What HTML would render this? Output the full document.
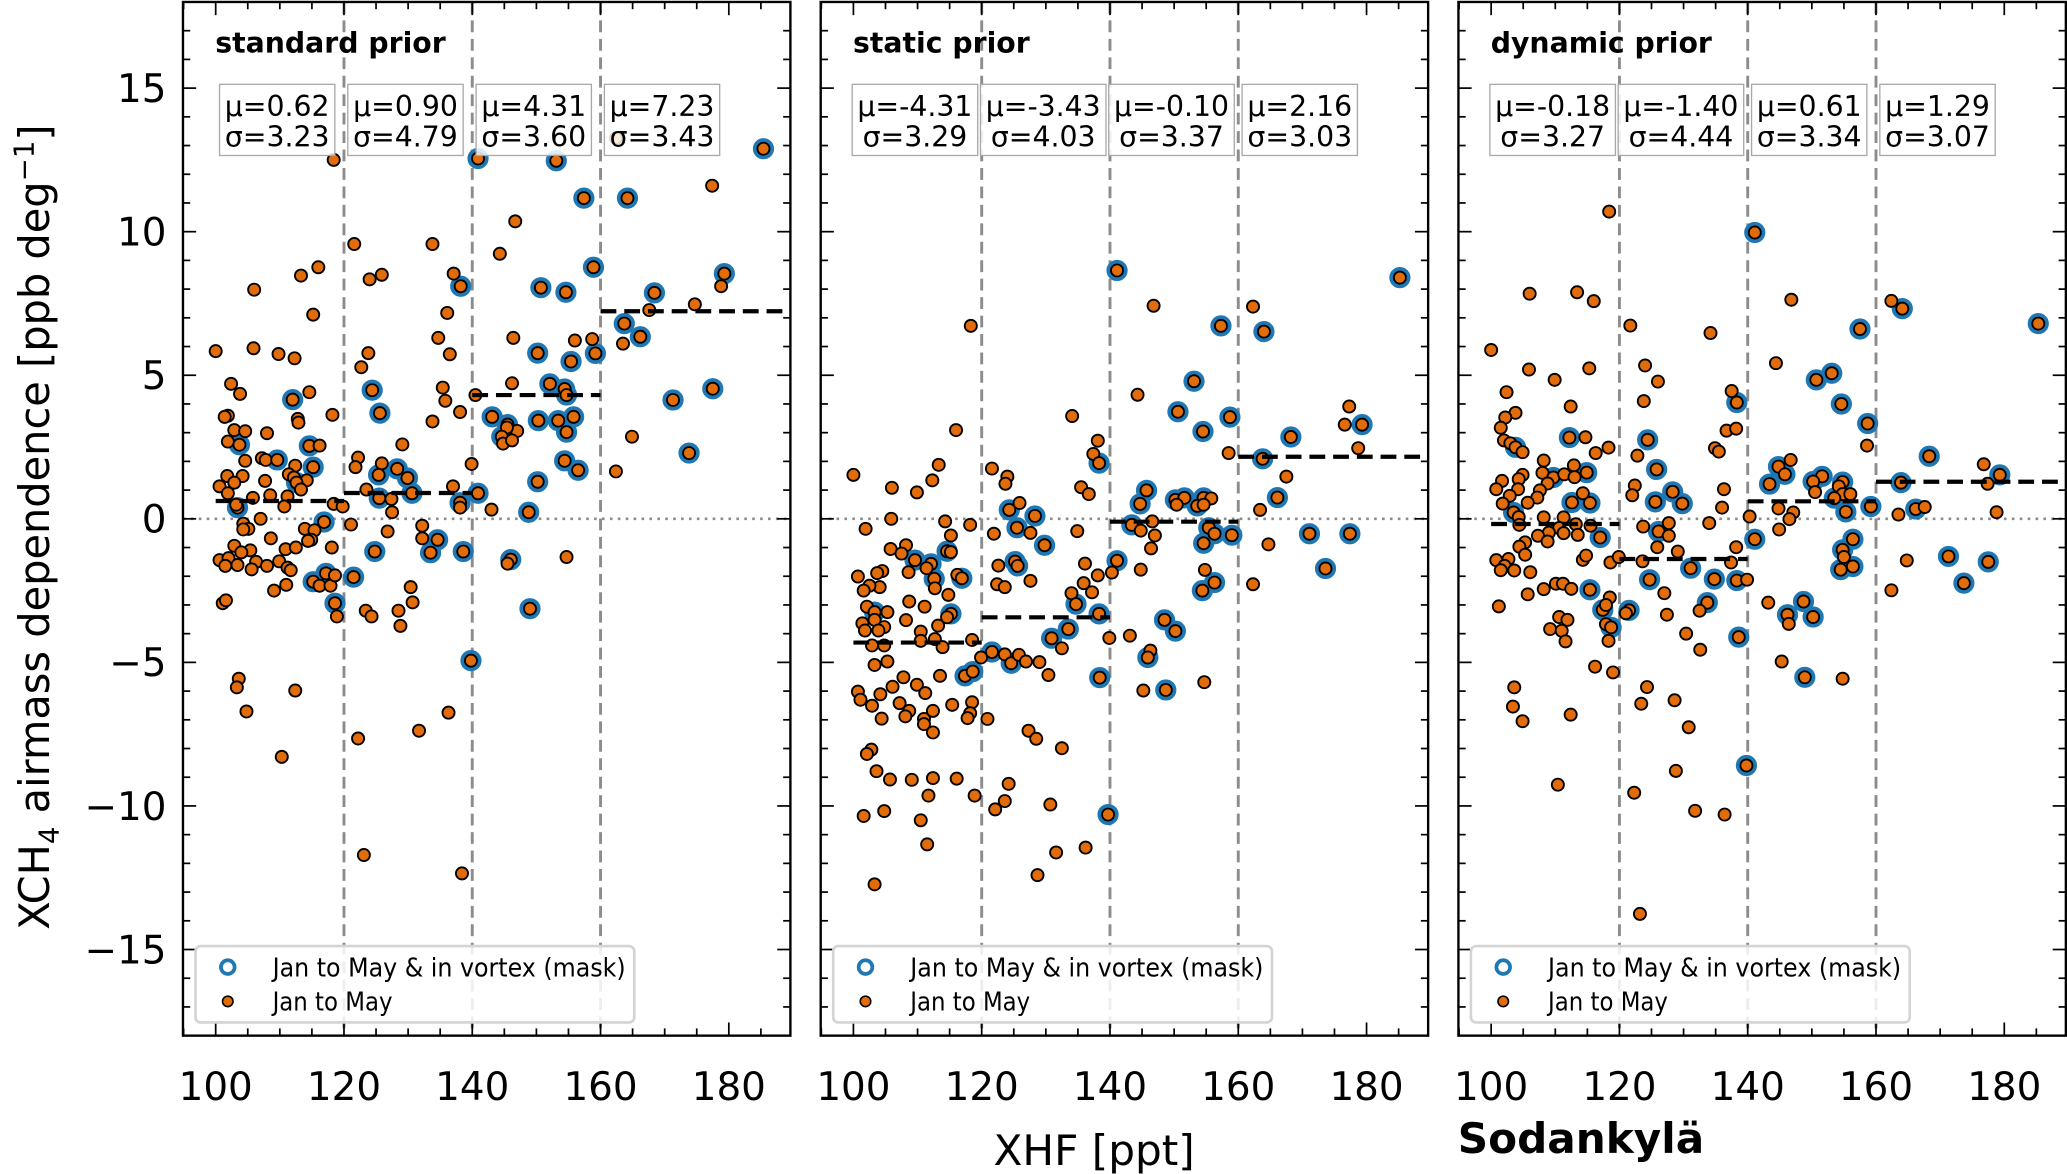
<!DOCTYPE html>
<html><head><meta charset="utf-8"><style>
html,body{margin:0;padding:0;background:#fff}
svg{display:block;font-family:"DejaVu Sans","Liberation Sans",sans-serif}
</style></head><body>
<svg id="chart" width="2067" height="1174" viewBox="0 0 1568 891" xmlns="http://www.w3.org/2000/svg">
<defs>
<clipPath id="clip0"><rect x="138.5" y="1.5" width="461" height="784.5"/></clipPath>
<clipPath id="clip1"><rect x="622.5" y="1.5" width="461" height="784.5"/></clipPath>
<clipPath id="clip2"><rect x="1106.5" y="1.5" width="461" height="784.5"/></clipPath>
</defs>
<text transform="translate(37,400) rotate(-90)" text-anchor="middle" font-size="31.5">XCH<tspan font-size="21" dy="7">4</tspan><tspan dy="-7"> airmass dependence [ppb deg</tspan><tspan font-size="21" dy="-12">−1</tspan><tspan dy="12">]</tspan></text>
<text x="830" y="884" text-anchor="middle" font-size="32">XHF [ppt]</text>
<text x="1106" y="875" font-size="32" font-weight="bold">Sodankylä</text>
</svg>
<script>
const XMIN = 94.9, XMAX = 189.6, YMIN = -18, YMAX = 18;
const xMajorTicks = [100, 120, 140, 160, 180];
const yMajorTicks = [-15, -10, -5, 0, 5, 10, 15];
const binEdges = [100, 120, 140, 160];
const panelTitles = ["standard prior", "static prior", "dynamic prior"];
const stdMu = ["0.62", "0.90", "4.31", "7.23"];
const stdSigma = ["3.23", "4.79", "3.60", "3.43"];
const staticMu = ["-4.31", "-3.43", "-0.10", "2.16"];
const staticSigma = ["3.29", "4.03", "3.37", "3.03"];
const dynMu = ["-0.18", "-1.40", "0.61", "1.29"];
const dynSigma = ["3.27", "4.44", "3.34", "3.07"];
// [xhf, value, inVortexMask]
const stdPoints = [
[100,5.84,0],[102.4,4.7,0],[103.8,4.35,0],[106,7.98,0],[105.9,5.94,0],[109.8,5.74,0],[112.3,5.59,0],[113.3,8.47,0],[115.2,7.11,0],[116,8.76,0],[118.4,12.5,0],[114.6,4.41,0],[112,4.15,1],[112.8,3.48,0],[112.9,3.35,0],[118.2,3.62,0],[101.9,3.59,0],[101.4,3.55,0],[102.9,3.09,0],[104.6,3.05,0],[108,2.98,0],[101.9,2.69,0],[103.7,2.58,1],[114.6,2.54,1],[116.2,2.55,0],[104.6,2.02,0],[107.2,2.11,0],[107.8,2.05,0],[109.6,2.05,1],[115.2,1.8,1],[112.4,1.85,0],[111.4,1.55,0],[112.2,1.44,0],[114.2,1.34,0],[101.8,1.49,0],[104.2,1.49,0],[102.9,1.26,0],[100.6,1.13,0],[101.9,0.89,0],[107.7,1.32,0],[112.6,1.26,1],[113.3,1.02,0],[108.5,0.82,0],[111.2,0.78,0],[105.8,0.73,0],[110.7,0.43,0],[103.4,0.39,1],[103.2,0.49,0],[107,0,0],[118.4,0.52,0],[119.8,0.43,0],[104.3,-0.17,0],[105.1,-0.35,0],[104.3,-0.37,0],[116.9,-0.11,1],[113.9,-0.35,0],[115.4,-0.4,0],[114.9,-0.73,0],[114.4,-0.77,0],[108.6,-0.68,0],[102.9,-0.94,0],[105.4,-1.1,0],[104,-1.17,0],[110.9,-1.06,0],[112.5,-1.0,0],[118.1,-1.0,0],[100.6,-1.44,0],[102,-1.37,0],[101.5,-1.64,0],[103.4,-1.61,0],[106.3,-1.5,0],[108,-1.64,0],[109.9,-1.48,0],[111.2,-1.7,0],[111.7,-1.79,0],[105.6,-1.76,0],[115.2,-2.19,1],[117.2,-1.9,1],[116.2,-2.33,0],[117.9,-2.33,0],[118.6,-1.97,0],[111.0,-2.3,0],[109.1,-2.5,0],[121.5,-2.03,1],
[101.1,-2.94,0],[101.6,-2.84,0],[118.6,-2.94,1],[118.9,-3.4,0],[123.4,-3.2,0],[124.3,-3.4,0],[128.5,-3.2,0],[128.8,-3.73,0],[130.4,-2.38,0],[130.7,-2.91,0],[149,-3.13,1],[139.8,-4.94,1],[103.6,-5.57,0],[103.3,-5.87,0],[112.4,-5.98,0],[104.8,-6.71,0],[136.3,-6.75,0],[131.7,-7.38,0],[122.2,-7.65,0],[110.3,-8.29,0],[123.1,-11.71,0],[138.4,-12.35,0],
[121.6,9.57,0],[124,8.34,0],[125.9,8.5,0],[123.8,5.77,0],[122.7,5.28,0],[124.4,4.48,1],[125.6,3.68,1],[122.2,2.13,0],[121.8,1.8,0],[125.9,1.93,0],[125.4,1.53,1],[128.3,1.74,1],[129.9,1.42,1],[129.1,2.59,0],[123.5,1.02,0],[125.5,0.72,1],[127.4,0.69,0],[130.6,0.89,1],[127.5,0.23,0],[121.1,-0.2,0],[126.8,-0.44,0],[132.2,-0.24,0],[132.2,-0.68,0],[134.6,-0.73,1],[124.8,-1.14,1],[133.5,-1.18,1],[138.6,-1.14,1],[133.8,9.57,0],[137.1,8.54,0],[138.2,8.1,1],[136.1,7.17,0],[134.7,6.3,0],[136.5,5.73,0],[135.4,4.57,0],[135.8,4.11,0],[133.8,3.39,0],[138.1,3.72,0],[137,1.13,0],[138.1,0.56,1],[138.1,0.39,0],[139.9,1.91,0],[140.9,0.89,1],[140.5,4.31,0],[140.9,12.55,1],[143,0.32,0],[144.3,9.23,0],[146.7,10.36,0],[146.4,6.3,0],[146.2,4.72,0],[143.1,3.55,1],[145.5,3.28,1],[147,3.06,0],[145.4,3.18,0],[144.6,2.86,1],[144.8,2.62,0],[146.2,2.73,0],[148.8,0.23,1],[146,-1.42,1],[145.5,-1.56,0],[150.2,5.77,1],[150.7,8.05,1],[153.1,12.47,1],[154.6,7.89,1],[157.4,11.17,1],[158.9,8.76,1],[156,6.21,0],[158.7,6.26,0],[159.2,5.76,1],[155.4,5.48,1],[152.1,4.7,1],[154.4,4.52,1],[154.7,4.31,1],[150.3,3.42,1],[153.4,3.42,1],[155.8,3.55,1],[154.7,3.02,1],[154.4,2.02,1],[156.5,1.69,1],[150.2,1.29,1],[154.7,-1.33,0],[162.4,1.65,0],[163.5,6.1,0],[163.7,6.8,1],[164.2,11.17,1],[166.2,6.34,1],[167.6,7.27,0],[164.9,2.86,0],[168.4,7.87,1],[171.3,4.14,1],[173.8,2.29,1],[174.7,7.47,0],[177.4,11.6,0],[177.5,4.53,1],[178.8,8.1,0],[179.3,8.54,1],[185.4,12.89,1],[162.4,13.26,0]
];
const staticPoints = [
[141.1,8.65,1],[185.2,8.4,1],[146.8,7.42,0],[162.3,7.39,0],[118.3,6.72,0],[157.3,6.72,1],[164,6.52,1],[153.1,4.79,1],[144.3,4.32,0],[134.1,3.58,0],[150.6,3.73,1],[158.7,3.54,1],[154.5,3.04,1],[168.2,2.85,1],[177.3,3.91,0],[176.6,3.28,0],[179.3,3.28,1],[178.7,2.46,0],[158.5,2.29,0],[163.8,2.09,1],[167.5,1.47,0],[166.1,0.74,1],[163.4,0.31,0],[171.1,-0.52,1],[177.4,-0.52,1],[164.7,-0.89,0],[173.6,-1.73,1],[162.3,-2.28,0],[116,3.09,0],[138.1,2.72,0],[137.4,2.26,0],[138.3,1.94,1],[113.3,1.88,0],[100,1.53,0],[112.3,1.34,0],[106,1.08,0],[109.9,0.92,0],[121.6,1.75,0],[124,1.47,0],[123.7,1.22,0],[135.5,1.1,0],[136.7,0.86,0],[145.7,0.99,1],[144.7,0.52,1],[150.2,0.66,1],[151.6,0.73,1],[154.6,0.73,1],[155.8,0.71,0],[153.6,0.45,1],[154.6,0.49,0],[150.4,0.49,0],[124.3,0.31,1],[125.9,0.55,0],[128.3,0.1,1],[105.9,0,0],[101.9,-0.35,0],[114.3,-0.09,0],[118.2,-0.21,0],[121.9,-0.52,0],[125.5,-0.31,1],[127.6,-0.49,0],[134.9,-0.43,0],[143.4,-0.21,1],[144.8,-0.41,0],[146.6,-0.09,0],[147,-0.58,0],[146.4,-1.03,0],[155.4,-0.31,1],[156.3,-0.52,1],[159,-0.57,1],[154.6,-0.85,1],[129.8,-0.92,1],[115.2,-0.58,0],[105.8,-1.05,0],[108.2,-0.92,0],[107.5,-1.21,0],[114.6,-1.13,1],[115.2,-1.16,0],[109.6,-1.44,1],[112.1,-1.57,1],[111.4,-1.72,0],[100.7,-2.01,0],[104.5,-1.82,0],[103.7,-1.89,0],[108.6,-1.86,0],[112.6,-2.09,1],[112.7,-2.42,0],[116.2,-1.95,0],[116.9,-2.07,1],[104.1,-2.38,0],[102.5,-2.33,0],[101.6,-2.5,0],[114.8,-2.65,0],[122.6,-1.63,0],[125.2,-1.49,1],[125.6,-1.64,1],[127.6,-2.16,0],[122.4,-2.28,0],[123.6,-2.38,0],[136.1,-1.56,0],[138.1,-1.97,0],[135.9,-2.24,0],[137.2,-2.56,0],[134,-2.59,0],[134.7,-2.97,1],[141.1,-1.46,1],[140.3,-1.87,0],[144.8,-1.77,0],[154.8,-1.78,0],[156.3,-2.22,1],[154.4,-2.5,1],[108.7,-2.88,0],[102.1,-3.06,0],[103.3,-3.25,1],[105.3,-3.25,0],[111.1,-3.06,0],[115.2,-3.31,1],[114.6,-3.43,0],[108.2,-3.53,0],[113.2,-3.72,0],[101.4,-3.64,0],[103.3,-3.52,0],[104.8,-3.77,0],[101.8,-3.89,0],[103.9,-3.89,0],[110.5,-3.93,0],[138.3,-3.31,1],[133.5,-3.84,1],[148.5,-3.52,1],[150.2,-3.91,1],[130.9,-4.16,1],[139.9,-4.15,0],[143.1,-4.07,0],[132.5,-4.51,0],[146.3,-4.59,0],[145.9,-4.83,1],[102.9,-4.41,0],[104.8,-4.41,0],[110.5,-4.25,0],[112.7,-4.19,0],[113.9,-4.47,0],[118.5,-4.22,0],[103.3,-5.09,0],[105.3,-4.97,0],[121.6,-4.64,1],[119.9,-4.83,0],[123.6,-4.72,0],[124.6,-5.03,1],[125.8,-4.74,0],[126.9,-4.97,0],[129,-4.99,0],[130.4,-5.44,0],[117.4,-5.47,1],[118.6,-5.32,1],[113.5,-5.47,0],[107.8,-5.52,0],[109.9,-5.78,0],[138.4,-5.53,1],[154.7,-5.69,0],[145.2,-5.98,0],[148.7,-5.96,1],[106.1,-5.85,0],[100.7,-6.02,0],[104.2,-6.11,0],[111.2,-6.07,0],
[101.1,-6.3,0],[102.9,-6.51,0],[107.2,-6.42,0],[108.7,-6.69,0],[108.1,-6.88,0],[104.4,-6.96,0],[111,-6.97,0],[111,-7.15,0],[112.4,-6.69,0],[112.4,-7.44,0],[115.4,-6.48,0],[118.5,-6.39,0],[118.2,-6.77,0],[117.8,-6.94,0],[120.9,-6.97,0],[127.3,-7.38,0],[128.5,-7.66,0],[132.5,-7.99,0],[102.8,-8.04,0],[102.1,-8.19,0],[103.6,-8.79,0],[105.7,-9.08,0],[109.1,-9.09,0],[112.4,-9.03,0],[116.1,-9.05,0],[124.2,-9.23,0],[111.7,-9.64,0],[118.9,-9.64,0],[123.6,-9.83,0],[122.1,-10.12,0],[130.7,-9.95,0],[101.6,-10.35,0],[104.8,-10.18,0],[110.5,-10.5,0],[139.7,-10.3,1],[111.5,-11.34,0],[131.6,-11.62,0],[136.2,-11.45,0],[128.7,-12.41,0],[103.3,-12.73,0]
];
const dynPoints = [
[141.1,9.97,1],[118.4,10.7,0],[106,7.84,0],[113.4,7.89,0],[116,7.58,0],[121.7,6.73,0],[134.2,6.47,0],[146.8,7.63,0],[162.4,7.59,0],[164.1,7.32,1],[185.3,6.8,1],[157.5,6.61,1],[100,5.88,0],[105.9,5.2,0],[115.3,5.24,0],[109.9,4.84,0],[124,5.34,0],[126,4.78,0],[144.4,5.42,0],[153.1,5.07,1],[150.7,4.84,1],[102.4,4.41,0],[137.5,4.45,0],[138.3,4.05,1],[123.8,4.1,0],[154.6,4,1],[112.4,3.91,0],[103.8,3.69,0],[102.2,3.53,0],[101.5,3.17,0],[158.7,3.32,1],[136.7,3.07,0],[138.2,3.14,0],[102,2.73,0],[103,2.63,0],[103.8,2.49,1],[104.9,2.32,0],[112.2,2.83,1],[114.7,2.84,0],[124.4,2.75,1],[118.3,2.48,0],[116.3,2.29,0],[158.6,2.55,0],[134.9,2.46,0],[135.5,2.34,0],[122.8,2.2,0],[108.2,2.03,0],[168.3,2.18,1],[146.7,2.05,0],[144.8,1.82,1],[145.8,1.55,1],[125.8,1.72,1],[112.9,1.86,0],[108,1.6,0],[104.9,1.53,0],[109.7,1.44,1],[111.4,1.55,0],[113,1.45,0],[114.9,1.61,1],[104.3,1.38,0],[101.7,1.32,0],[108.8,1.23,0],[176.8,1.9,0],[179.3,1.53,1],[163.9,1.26,1],[177.4,1.22,0],[143.4,1.21,1],[151.6,1.48,1],[150.2,1.3,1],[154.8,1.28,1],[154.2,1.13,0],[150.5,0.93,0],[154.8,0.86,0],[156,0.86,0],[153.5,0.72,1],[122.4,1.16,0],[122,0.82,0],[128.3,0.94,1],[129.8,0.53,1],[125.6,0.59,1],[136.3,1.03,0],[136,0.39,0],[100.8,1.03,0],[104.2,1.03,0],[107.6,0.99,0],[114.3,0.89,0],[102.9,0.8,0],[107.2,0.74,0],[105.7,0.56,0],[112.6,0.57,1],[115.4,0.55,1],[101.8,0.53,0],[103.5,0.22,1],[104.3,0.06,0],[108.2,0.05,0],[111.3,0.05,0],[104.4,-0.21,0],[110.6,-0.32,0],[109,-0.48,0],[113.2,-0.19,0],[111.3,-0.5,0],[113.5,-0.56,0],[115.5,-0.24,0],[107.3,-0.59,0],[117,-0.65,1],[105.3,-0.82,0],[104.4,-0.97,0],[108.8,-0.79,0],[105.3,-1.25,0],[100.8,-1.44,0],[102.7,-1.4,0],[102.1,-1.64,0],[101.5,-1.79,0],[103.6,-1.8,0],[106.1,-1.86,0],[114.3,-1.43,0],[114.8,-1.28,0],[118.6,-1.52,0],[119.9,-1.33,0],[159.2,0.43,1],[166.2,0.34,1],[167.6,0.41,0],[163.5,0.15,0],[178.8,0.23,0],[155.3,0.24,1],[147.1,0.22,0],[146.5,-0.01,0],[144.8,0.36,0],[140.3,0.08,0],[144.9,-0.37,0],[134,-0.15,0],[123.7,-0.27,0],[127.7,-0.15,0],[126.1,-0.44,1],[127.7,-0.59,0],[125.9,-0.99,0],[129.1,-1.14,0],[138.2,-0.99,0],[141.1,-0.71,1],[156.4,-0.71,1],[154.8,-1.08,1],[155,-1.33,0],[123.6,-1.48,0],[137.4,-1.52,0],[131.1,-1.72,1],[164.8,-1.45,0],[171.3,-1.31,1],[177.5,-1.5,1],[156.4,-1.66,1],[154.5,-1.77,1],[173.7,-2.24,1],[162.4,-2.49,0],[124.7,-2.12,1],[134.8,-2.1,1],[138.3,-2.15,1],[139.9,-2.12,0],[127,-2.59,0],[115.4,-2.47,1],[110.1,-2.26,0],[111.2,-2.26,0],[112.5,-2.44,0],[108.2,-2.45,0],[105.7,-2.63,0],[133.7,-2.92,1],[143.2,-2.92,0],[148.7,-2.88,1],[101.2,-3.05,0],[117.4,-3.17,1],[121.5,-3.19,1],[118.5,-2.74,0],[132.5,-3.2,0],[127.4,-3.34,0],[146.2,-3.34,1],[150.2,-3.42,1],[110.6,-3.42,0],[111.9,-3.52,0],
[146.4,-3.66,0],[121,-3.29,0],[117.9,-3.0,0],[109.2,-3.84,0],[111,-3.9,0],[117.9,-3.67,0],[118.7,-3.78,1],[111.6,-4.27,0],[118.3,-4.25,0],[130.4,-4.0,0],[138.6,-4.12,1],[132.6,-4.56,0],[145.3,-4.97,0],[148.9,-5.52,1],[154.8,-5.57,0],[116.2,-5.15,0],[119,-5.35,0],[103.6,-5.87,0],[124.3,-5.86,0],[103.4,-6.54,0],[123.4,-6.44,0],[128.6,-6.32,0],[104.9,-7.05,0],[112.4,-6.82,0],[130.8,-7.26,0],[139.8,-8.59,1],[128.8,-8.78,0],[110.4,-9.26,0],[122.3,-9.54,0],[131.8,-10.17,0],[136.4,-10.3,0],[123.2,-13.76,0]
];
const panelPoints = [stdPoints, staticPoints, dynPoints];
const panelMu = [stdMu, staticMu, dynMu];
const panelSigma = [stdSigma, staticSigma, dynSigma];

const NS = "http://www.w3.org/2000/svg";
const svg = document.getElementById("chart");
const PW = 461, PT = 1.5, PH = 784.5;
function mk(tag, attrs, parent) {
  const e = document.createElementNS(NS, tag);
  for (const k in attrs) e.setAttribute(k, attrs[k]);
  (parent || svg).appendChild(e);
  return e;
}
for (let p = 0; p < 3; p++) {
  const ox = 138.5 + 484 * p;
  const X = v => ox + (v - XMIN) / (XMAX - XMIN) * PW;
  const Y = v => PT + (YMAX - v) / (YMAX - YMIN) * PH;
  const g = mk("g", {});
  
  
  const bg = mk("rect", {x: ox, y: PT, width: PW, height: PH, fill: "#fff"}, g);
  
  
  const plot = mk("g", {"clip-path": "url(#clip" + p + ")"}, g);
  const zl = mk("line", {x1: ox, x2: ox + PW, y1: Y(0), y2: Y(0), stroke: "#8c8c8c", "stroke-width": 2, "stroke-dasharray": "2,4"}, plot);
  
  
  for (let b = 1; b < binEdges.length; b++) {
    const vl = mk("line", {x1: X(binEdges[b]), x2: X(binEdges[b]), y1: PT, y2: PT + PH, stroke: "#8c8c8c", "stroke-width": 2.2, "stroke-dasharray": "9,5"}, plot);
    
    
  }
  const pts = panelPoints[p];
  pts.forEach(d => {
    if (d[2]) {
      const c = mk("circle", {cx: X(d[0]), cy: Y(d[1]), r: 6.6, fill: "none", stroke: "#1f77b4", "stroke-width": 2.9}, plot);
      
      
    }
  });
  pts.forEach(d => {
    const c = mk("circle", {cx: X(d[0]), cy: Y(d[1]), r: 4.6, fill: "#e36c0a", stroke: "#000", "stroke-width": 1.4}, plot);
    
    
  });
  for (let b = 0; b < binEdges.length; b++) {
    const x1 = X(binEdges[b]);
    const x2 = b < binEdges.length - 1 ? X(binEdges[b + 1]) : ox + PW;
    const m = parseFloat(panelMu[p][b]);
    const ml = mk("line", {x1: x1, x2: x2, y1: Y(m), y2: Y(m), stroke: "#000", "stroke-width": 3.2, "stroke-dasharray": "12,6"}, plot);
    
    
  }
  const tk = mk("g", {stroke: "#000", "stroke-width": 1.3}, g);
  for (let v = 95; v <= 189; v += 5) {
    const major = v % 20 === 0;
    const L = major ? 10 : 5.5;
    mk("line", {x1: X(v), x2: X(v), y1: PT + PH, y2: PT + PH - L}, tk);
    mk("line", {x1: X(v), x2: X(v), y1: PT, y2: PT + L}, tk);
  }
  for (let v = -18; v <= 18; v++) {
    const major = v % 5 === 0;
    const L = major ? 10 : 5.5;
    mk("line", {x1: ox, x2: ox + L, y1: Y(v), y2: Y(v)}, tk);
    mk("line", {x1: ox + PW, x2: ox + PW - L, y1: Y(v), y2: Y(v)}, tk);
  }
  xMajorTicks.forEach(v => {
    const t = mk("text", {x: X(v), y: 835, "text-anchor": "middle", "font-size": 29.5}, g);
    t.textContent = String(v);
    
    
  });
  if (p === 0) {
    yMajorTicks.forEach(v => {
      const t = mk("text", {x: 126, y: Y(v) + 10.5, "text-anchor": "end", "font-size": 29.5}, g);
      t.textContent = v < 0 ? "\u2212" + Math.abs(v) : String(v);
      
      
    });
  }
  const frame = mk("rect", {x: ox, y: PT, width: PW, height: PH, fill: "none", stroke: "#000", "stroke-width": 1.8}, g);
  
  
  const title = mk("text", {x: ox + 24.5, y: 40, "font-size": 21.5, "font-weight": "bold"}, g);
  title.textContent = panelTitles[p];
  
  
  for (let b = 0; b < binEdges.length; b++) {
    const cx = X(binEdges[b] + 10) - 2;
    const bg2 = mk("g", {}, g);
    
    
    const r = mk("rect", {y: 64, height: 54, fill: "rgba(255,255,255,0.85)", stroke: "#a8a8a8", "stroke-width": 1}, bg2);
    const t1 = mk("text", {x: cx, y: 88, "text-anchor": "middle", "font-size": 21.5}, bg2);
    t1.textContent = "\u03bc=" + panelMu[p][b];
    const t2 = mk("text", {x: cx, y: 111, "text-anchor": "middle", "font-size": 21.5}, bg2);
    t2.textContent = "\u03c3=" + panelSigma[p][b];
    const w = Math.max(t1.getComputedTextLength(), t2.getComputedTextLength()) + 8;
    r.setAttribute("x", cx - w / 2);
    r.setAttribute("width", w);
  }
  const lg = mk("g", {}, g);
  
  
  mk("rect", {x: ox + 9.5, y: 718, width: 333, height: 58, rx: 4, fill: "rgba(255,255,255,0.85)", stroke: "#d4d4d4", "stroke-width": 2}, lg);
  const lm1 = mk("circle", {cx: ox + 34, cy: 734, r: 5.2, fill: "none", stroke: "#1f77b4", "stroke-width": 2.8}, lg);
  
  
  const lt1 = mk("text", {x: ox + 68, y: 741, "font-size": 19.5, textLength: 268, lengthAdjust: "spacingAndGlyphs"}, lg);
  lt1.textContent = "Jan to May & in vortex (mask)";
  
  
  const lm2 = mk("circle", {cx: ox + 34, cy: 760, r: 4, fill: "#e36c0a", stroke: "#000", "stroke-width": 1.2}, lg);
  
  
  const lt2 = mk("text", {x: ox + 68, y: 767, "font-size": 19.5, textLength: 91, lengthAdjust: "spacingAndGlyphs"}, lg);
  lt2.textContent = "Jan to May";
  
  
}
</script>
</body></html>
